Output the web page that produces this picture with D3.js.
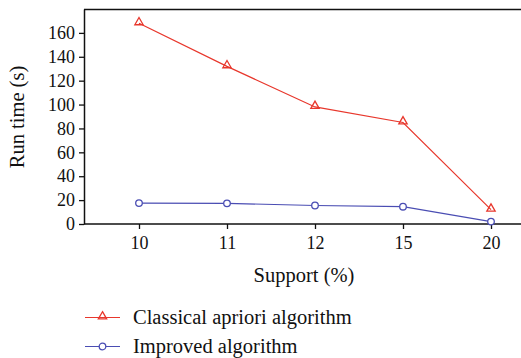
<!DOCTYPE html>
<html>
<head>
<meta charset="utf-8">
<script src="https://cdn.jsdelivr.net/npm/d3@7"></script>
<style>
  body { margin: 0; background: #fff; }
</style>
</head>
<body>
<svg width="521" height="358" font-family="Liberation Serif"></svg>
<script>
// data
let supports = ["10", "11", "12", "15", "20"];
let classical = [168, 132, 98, 85, 12];
let improved = [17.5, 17.3, 15.5, 14.5, 2];
let yTicks = [0, 20, 40, 60, 80, 100, 120, 140, 160];
let seriesNames = ["Classical apriori algorithm", "Improved algorithm"];

let red = "#e8372c";
let blue = "#4a4db3";
let serif = "Liberation Serif";

let svg = d3.select("svg");
let plotLeft = 84, plotTop = 9, plotBottom = 224, plotRight = 546;

let x = d3.scalePoint().domain(supports).range([plotLeft, plotRight]).padding(0.625);
let y = d3.scaleLinear().domain([0, 180]).range([plotBottom, plotTop]);

// frame: top line (right side runs off the picture)
svg.append("line")
  .attr("x1", plotLeft).attr("x2", 521)
  .attr("y1", plotTop + 0.5).attr("y2", plotTop + 0.5)
  .attr("stroke", "#111").attr("stroke-width", 1.5);

// y axis
let yAxis = svg.append("g")
  .attr("transform", "translate(" + plotLeft + ",0)")
  .call(d3.axisLeft(y).tickValues(yTicks).tickSize(5).tickSizeOuter(0).tickPadding(4));
yAxis.attr("font-family", serif).attr("font-size", 18);
yAxis.select(".domain").attr("stroke", "#111").attr("stroke-width", 1.5);
yAxis.selectAll(".tick line").attr("stroke", "#111").attr("stroke-width", 1.3);
yAxis.selectAll("text").attr("fill", "#111");

// x axis
let xAxis = svg.append("g")
  .attr("transform", "translate(0," + plotBottom + ")")
  .call(d3.axisBottom(x).tickSize(5).tickSizeOuter(0).tickPadding(7));
xAxis.attr("font-family", serif).attr("font-size", 18);
xAxis.select(".domain").attr("d", "M" + plotLeft + ",0H521")
  .attr("stroke", "#111").attr("stroke-width", 1.5);
xAxis.selectAll(".tick line").attr("stroke", "#111").attr("stroke-width", 1.3);
xAxis.selectAll("text").attr("fill", "#111");

// axis titles
svg.append("text")
  .attr("transform", "translate(24,117) rotate(-90)")
  .attr("text-anchor", "middle")
  .attr("font-size", 20.5)
  .attr("fill", "#111")
  .text("Run time (s)");

svg.append("text")
  .attr("x", 304).attr("y", 282)
  .attr("text-anchor", "middle")
  .attr("font-size", 20.5)
  .attr("fill", "#111")
  .text("Support (%)");

let line = d3.line()
  .x(function (d, i) { return x(supports[i]); })
  .y(function (d) { return y(d); });

let tri = d3.symbol().type(d3.symbolTriangle).size(30);

// classical series
svg.append("path")
  .datum(classical)
  .attr("d", line)
  .attr("fill", "none")
  .attr("stroke", red)
  .attr("stroke-width", 1.2);

svg.selectAll("path.tri")
  .data(classical)
  .enter()
  .append("path")
  .classed("tri", true)
  .attr("d", tri)
  .attr("transform", function (d, i) {
    return "translate(" + x(supports[i]) + "," + (y(d) - 1) + ")";
  })
  .attr("fill", "none")
  .attr("stroke", red)
  .attr("stroke-width", 1.3);

// improved series
svg.append("path")
  .datum(improved)
  .attr("d", line)
  .attr("fill", "none")
  .attr("stroke", blue)
  .attr("stroke-width", 1.2);

svg.selectAll("circle.pt")
  .data(improved)
  .enter()
  .append("circle")
  .classed("pt", true)
  .attr("r", 3.3)
  .attr("cx", function (d, i) { return x(supports[i]); })
  .attr("cy", function (d) { return y(d); })
  .attr("fill", "#fff")
  .attr("stroke", blue)
  .attr("stroke-width", 1.3);

// legend
let legend = svg.selectAll("g.legend")
  .data(seriesNames)
  .enter()
  .append("g")
  .classed("legend", true)
  .attr("transform", function (d, i) {
    return "translate(85," + (317.5 + i * 29) + ")";
  });

legend.append("line")
  .attr("x1", 0).attr("x2", 35)
  .attr("stroke", function (d, i) { return i === 0 ? red : blue; })
  .attr("stroke-width", 1.2);

legend.each(function (d, i) {
  let g = d3.select(this);
  if (i === 0) {
    g.append("path")
      .attr("d", tri)
      .attr("transform", "translate(17.5,-1)")
      .attr("fill", "none")
      .attr("stroke", red)
      .attr("stroke-width", 1.3);
  } else {
    g.append("circle")
      .attr("cx", 17.5).attr("r", 3.3)
      .attr("fill", "#fff")
      .attr("stroke", blue)
      .attr("stroke-width", 1.3);
  }
});

legend.append("text")
  .attr("x", 48)
  .attr("y", 6.5)
  .attr("font-size", 20.5)
  .attr("fill", "#111")
  .text(function (d) { return d; });
</script>
</body>
</html>
